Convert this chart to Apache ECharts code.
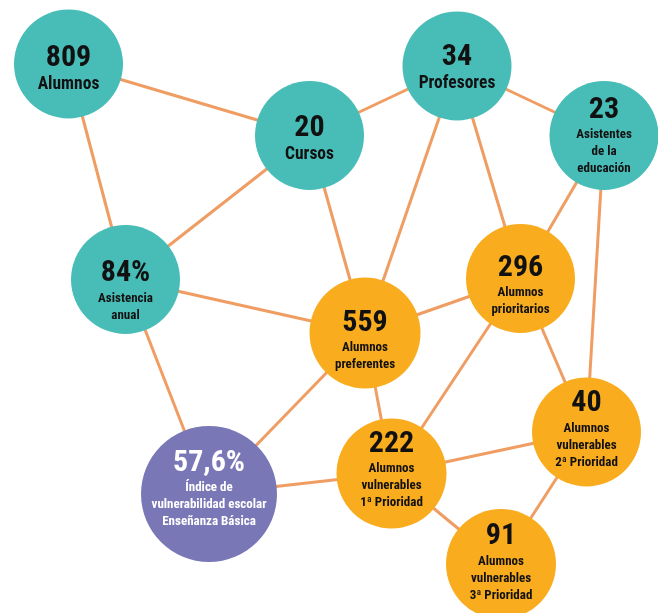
<!DOCTYPE html>
<html>
<head>
<meta charset="utf-8">
<script src="https://cdn.jsdelivr.net/npm/echarts@6/dist/echarts.min.js"></script>
<style>
  html, body { margin: 0; padding: 0; background: #fff; }
  #chart { width: 658px; height: 613px; }
</style>
</head>
<body>
<div id="chart"></div>
<script>
// node data
const nodeNames = ['alumnos', 'cursos', 'profesores', 'asistentes', 'asistencia',
  'prioritarios', 'preferentes', 'vuln2', 'indice', 'vuln1', 'vuln3']
const nodeValues = ['809', '20', '34', '23', '84%', '296', '559', '40', '57,6%', '222', '91']
const nodeCaptions = [
  ['Alumnos'],
  ['Cursos'],
  ['Profesores'],
  ['Asistentes', 'de la', 'educación'],
  ['Asistencia', 'anual'],
  ['Alumnos', 'prioritarios'],
  ['Alumnos', 'preferentes'],
  ['Alumnos', 'vulnerables', '2ª Prioridad'],
  ['Índice de', 'vulnerabilidad escolar', 'Enseñanza Básica'],
  ['Alumnos', 'vulnerables', '1ª Prioridad'],
  ['Alumnos', 'vulnerables', '3ª Prioridad']
]
const nodeGroup = ['school', 'school', 'school', 'school', 'school',
  'students', 'students', 'students', 'index', 'students', 'students']
// layout of the network (map units)
const nodeX = [68.5, 309.5, 457, 604, 125.5, 520.5, 365, 586.5, 209, 391.5, 501]
const nodeY = [64, 135.5, 66, 135.5, 279.5, 278.5, 333, 432, 494, 473.5, 564]
const links = [
  ['alumnos', 'cursos'],
  ['alumnos', 'asistencia'],
  ['cursos', 'profesores'],
  ['cursos', 'asistencia'],
  ['cursos', 'preferentes'],
  ['profesores', 'asistentes'],
  ['profesores', 'preferentes'],
  ['profesores', 'prioritarios'],
  ['asistentes', 'prioritarios'],
  ['asistentes', 'vuln2'],
  ['asistencia', 'preferentes'],
  ['asistencia', 'indice'],
  ['preferentes', 'indice'],
  ['preferentes', 'prioritarios'],
  ['preferentes', 'vuln1'],
  ['prioritarios', 'vuln1'],
  ['prioritarios', 'vuln2'],
  ['vuln1', 'indice'],
  ['vuln1', 'vuln2'],
  ['vuln1', 'vuln3'],
  ['vuln2', 'vuln3']
]

// styles
const FONT = '"Roboto Condensed", Roboto, sans-serif'
const groupColor = { school: '#48BDB8', students: '#F9AC1D', index: '#7A77B7' }
const symbolSizes = [109, 109, 109, 109, 109, 109, 111, 109, 136, 110, 110]
const labelShift = [4, 3, 1.5, 0, 11, 6.5, 7, -3, -5.5, -4, -2]

const chart = echarts.init(document.getElementById('chart'))

const data = nodeNames.map((name, i) => {
  const big = nodeCaptions[i].length === 1
  const white = nodeGroup[i] === 'index'
  const cap = nodeCaptions[i].map(t => `{${big ? 'b' : 't'}${white ? 'w' : ''}|${t}}`).join('\n')
  return {
    name,
    value: [nodeX[i], nodeY[i]],
    symbolSize: symbolSizes[i],
    itemStyle: { color: groupColor[nodeGroup[i]] },
    label: {
      formatter: `{n${white ? 'w' : ''}|${nodeValues[i]}}\n${cap}`,
      offset: [0, labelShift[i]]
    }
  }
})

const rich = {
  n: { fontFamily: FONT, fontWeight: 'bold', fontSize: 30, lineHeight: 33, color: '#111' },
  nw: { fontFamily: FONT, fontWeight: 'bold', fontSize: 30, lineHeight: 33, color: '#fff' },
  b: { fontFamily: FONT, fontWeight: 'bold', fontSize: 17.5, lineHeight: 20, color: '#111' },
  t: { fontFamily: FONT, fontWeight: 'bold', fontSize: 13, lineHeight: 17, color: '#111' },
  tw: { fontFamily: FONT, fontWeight: 'bold', fontSize: 13, lineHeight: 17, color: '#fff' }
}

chart.setOption({
  backgroundColor: '#fff',
  animation: false,
  grid: { left: 0, right: 0, top: 0, bottom: 0 },
  xAxis: { type: 'value', min: 0, max: 658, show: false },
  yAxis: { type: 'value', min: 0, max: 613, inverse: true, show: false },
  series: [
    {
      type: 'graph',
      coordinateSystem: 'cartesian2d',
      layout: 'none',
      symbol: 'circle',
      label: { show: true, position: 'inside', align: 'center', rich },
      lineStyle: { color: '#EF9D63', width: 3, opacity: 1, curveness: 0 },
      emphasis: { disabled: true },
      data,
      links: links.map(([source, target]) => ({ source, target }))
    }
  ]
})
</script>
</body>
</html>
